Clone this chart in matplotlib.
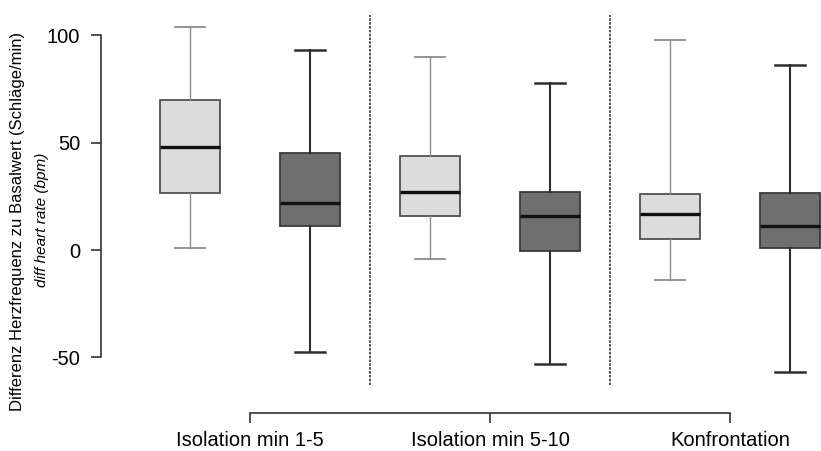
import matplotlib
matplotlib.use("Agg")
import matplotlib.pyplot as plt

plt.rcParams['font.family'] = ['Liberation Sans', 'DejaVu Sans']

# ---------------------------------------------------------------
# data (heart rate difference, bpm)
# ---------------------------------------------------------------
groups = ['Isolation min 1-5', 'Isolation min 5-10', 'Konfrontation']
whis_hi = [104, 93, 90, 78, 98, 86]
q3 = [70, 45, 44, 27, 26, 26.5]
medians = [48, 22, 27, 16, 17, 11]
q1 = [26.5, 11, 16, -0.5, 5, 1]
whis_lo = [1, -47.5, -4, -53, -14, -57]
y_ticks = [-50, 0, 50, 100]

light = '#dcdcdc'
dark = '#6f6f6f'

fig = plt.figure(figsize=(8.21, 4.51), dpi=100)
# pixel layout: y axis at x=101, bottom axis at y=413
ax = fig.add_axes([101 / 821, 38 / 451, 720 / 821, 403 / 451])

stats = []
for i in range(len(medians)):
    stats.append({'whishi': whis_hi[i], 'q3': q3[i], 'med': medians[i],
                  'q1': q1[i], 'whislo': whis_lo[i], 'fliers': []})

positions = list(range(1, len(medians) + 1))
for i, st in enumerate(stats):
    is_light = i % 2 == 0
    wcol = '#8a8a8a' if is_light else '#2e2e2e'
    wlw = 1.0 if is_light else 1.5
    ax.bxp([st], positions=[positions[i]], widths=0.5, patch_artist=True,
           showfliers=False,
           boxprops=dict(facecolor=light if is_light else dark,
                         edgecolor='#505050' if is_light else '#3a3a3a', linewidth=1.3),
           medianprops=dict(color='#111111', linewidth=2.4),
           whiskerprops=dict(color=wcol, linewidth=wlw),
           capprops=dict(color=wcol, linewidth=wlw + 0.3),
           capwidths=0.25)

# dashed separators between conditions
for sep in [2.5, 4.5]:
    ax.vlines(sep, -63, 109.5, colors='#333333', linewidth=1.2,
              linestyles=(0, (1.5, 0.8)))

ax.set_xlim(1 + (101 - 190) / 120, 1 + (821 - 190) / 120)
ax.set_ylim((250 - 413) / 2.147, 240 / 2.147)

ax.spines['top'].set_visible(False)
ax.spines['right'].set_visible(False)
ax.spines['left'].set_bounds(-50, 100)
ax.spines['bottom'].set_bounds(1.5, 5.5)
for s in ['left', 'bottom']:
    ax.spines[s].set_color('#333333')
    ax.spines[s].set_linewidth(1.2)

ax.set_yticks(y_ticks)
ax.set_yticklabels([str(t) for t in y_ticks], fontsize=14.5)
ax.set_xticks([1.5, 3.5, 5.5])
ax.set_xticklabels(groups, fontsize=14.5)
ax.tick_params(axis='both', length=7, width=1.2, color='#333333')
ax.tick_params(axis='y', pad=8)
ax.tick_params(axis='x', pad=6)

fig.text(18 / 821, 1 - 221 / 451,
         'Differenz Herzfrequenz zu Basalwert (Schläge/min)',
         rotation=90, ha='center', va='center', fontsize=12)
fig.text(42 / 821, 1 - 220 / 451, 'diff heart rate (bpm)',
         rotation=90, ha='center', va='center', fontsize=11, style='italic')

fig.savefig('out.png', dpi=100)
